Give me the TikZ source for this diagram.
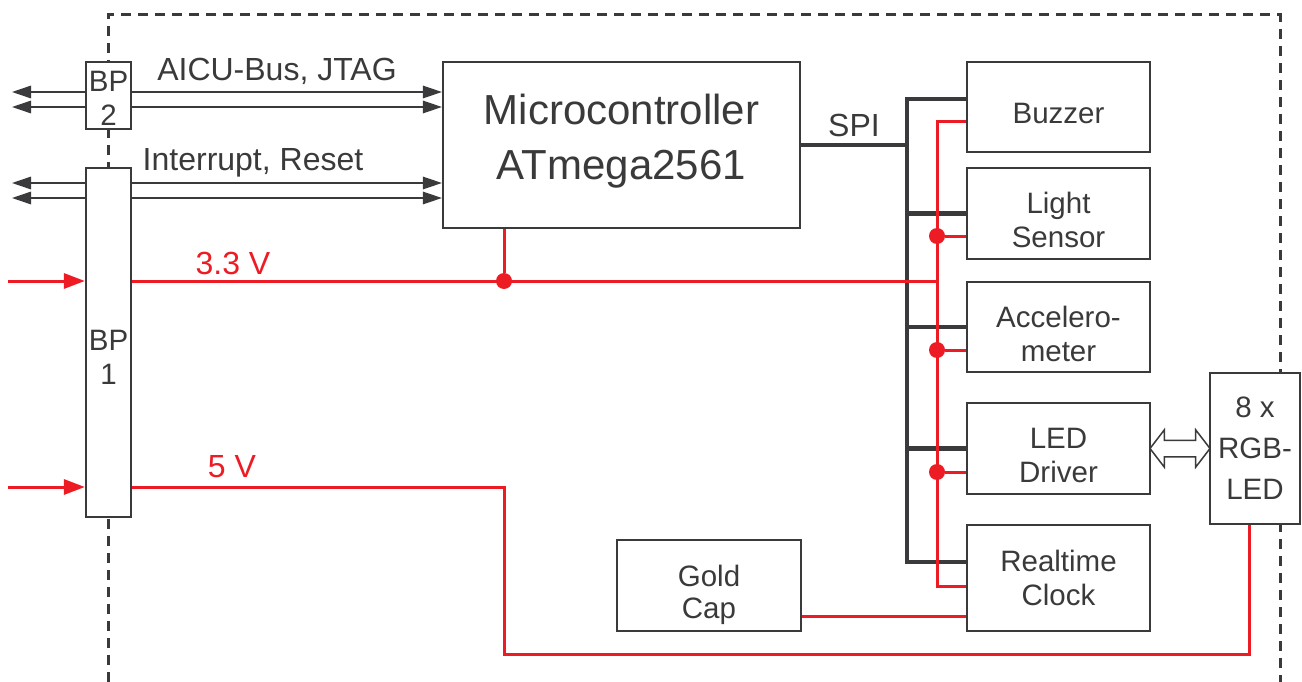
\documentclass[tikz,border=0pt]{standalone}
\usepackage{fontspec}
\setmainfont{Liberation Sans}
\usetikzlibrary{arrows.meta,positioning,shapes.arrows,calc}
\definecolor{DGray}{RGB}{58,58,60}
\definecolor{PRed}{RGB}{237,28,36}

\tikzset{
  blk/.style={draw=DGray, line width=2.2pt, fill=white, inner sep=0pt},
  boxtxt/.style={text=DGray, align=center, inner sep=0pt,
    font=\fontsize{29.5}{34}\selectfont},
  sig/.style={draw=DGray, line width=1.5pt, -{Triangle[length=19pt,width=12.5pt]}},
  spibus/.style={draw=DGray, line width=4.5pt},
  pwr/.style={draw=PRed, line width=3pt},
  pwrin/.style={pwr, -{Triangle[length=21pt,width=15pt]}},
  pwrdot/.style={circle, fill=PRed, inner sep=0pt, minimum size=16pt},
  lbl/.style={text=DGray, font=\fontsize{32}{38}\selectfont, inner sep=0pt},
  frame/.style={draw=DGray, line width=3pt, dash pattern=on 10pt off 7pt}
}

\begin{document}
\begin{tikzpicture}[x=1pt, y=-1pt]
  \useasboundingbox (0,0) rectangle (1302,682);

  % board outline
  \draw[frame] (108,682) |- (1280,15) -- (1280,682);

  % connectors and blocks
  \node[blk, minimum width=45pt, minimum height=67pt,
    label={[boxtxt, yshift=-3pt]center:{BP\\2}}] (bp2) at (108.5,95.5) {};
  \node[blk, minimum width=45pt, minimum height=349pt,
    label={[boxtxt, yshift=-15pt]center:{BP\\1}}] (bp1) at (108.5,342.5) {};
  \node[blk, minimum width=357pt, minimum height=166pt,
    label={[boxtxt, yshift=4pt, font=\fontsize{42}{55}\selectfont]center:{Microcontroller\\ATmega2561}}]
    (mcu) at (621.5,145) {};

  \node[blk, minimum width=183pt, minimum height=90pt,
    label={[boxtxt, yshift=-6pt]center:Buzzer}] (buzzer) at (1058.5,107) {};
  \node[blk, minimum width=183pt, minimum height=91pt,
    label={[boxtxt, yshift=-6pt]center:{Light\\Sensor}}] (light) at (1058.5,213.5) {};
  \node[blk, minimum width=183pt, minimum height=90pt,
    label={[boxtxt, yshift=-7pt]center:{Accelero-\\meter}}] (accel) at (1058.5,327) {};
  \node[blk, minimum width=183pt, minimum height=91pt,
    label={[boxtxt, yshift=-7pt]center:{LED\\Driver}}] (ledd) at (1058.5,448.5) {};
  \node[blk, minimum width=183pt, minimum height=106pt,
    label={[boxtxt]center:{Realtime\\Clock}}] (rtc) at (1058.5,578) {};
  \node[blk, minimum width=184pt, minimum height=91pt,
    label={[boxtxt, yshift=-9pt, font=\fontsize{29.5}{32}\selectfont]center:{Gold\\Cap}}]
    (gold) at (709,585.5) {};
  \node[blk, minimum width=90pt, minimum height=151pt,
    label={[boxtxt, font=\fontsize{29.5}{41}\selectfont]center:{8 x\\RGB-\\LED}}]
    (rgb) at (1255,448.5) {};

  % external signals
  \coordinate (extA) at (12,92);
  \coordinate (extB) at (12,107);
  \coordinate (extC) at (12,183);
  \coordinate (extD) at (12,198);
  \foreach \e/\b in {extA/bp2, extB/bp2, extC/bp1, extD/bp1} {
    \draw[sig] (\e -| \b.west) -- (\e);
    \draw[sig] (\e -| \b.east) -- (\e -| mcu.west);
  }
  \node[lbl] (aicu) at (277,71) {AICU-Bus, JTAG};
  \node[lbl] (irq) at (253,163) {Interrupt, Reset};

  % SPI bus
  \coordinate (spiT) at (907,99);
  \coordinate (spiB) at (907,562);
  \draw[spibus] (spiT -| buzzer.west) -- (spiT) -- (spiB) -- (spiB -| rtc.west);
  \draw[spibus] (mcu.east) -- (mcu.east -| spiT);
  \foreach \n in {light, accel, ledd}
    \draw[spibus] (\n.west -| spiT) -- (\n.west);
  \node[lbl] (spi) at (854,125) {SPI};

  % 3.3 V supply
  \coordinate (in33) at (8,281);
  \coordinate (vT) at (937,122);
  \coordinate (vB) at (937,586);
  \draw[pwrin] (in33) -- (in33 -| bp1.west);
  \draw[pwr] (in33 -| bp1.east) -- (in33 -| vT);
  \draw[pwr] (vT -| buzzer.west) -- (vT) -- (vB) -- (vB -| rtc.west);
  \node[pwrdot] (dmcu) at (504,281) {};
  \draw[pwr] (mcu.south -| dmcu) -- (dmcu);
  \node[pwrdot] (dls) at (937,236) {};
  \node[pwrdot] (dacc) at (937,350) {};
  \node[pwrdot] (dled) at (937,472) {};
  \draw[pwr] (dls) -- (dls -| light.west);
  \draw[pwr] (dacc) -- (dacc -| accel.west);
  \draw[pwr] (dled) -- (dled -| ledd.west);
  \draw[pwr] ([yshift=-31pt]gold.east) -- ([yshift=-31pt]gold.east -| rtc.west);
  \node[lbl, text=PRed] (v33) at (233,263) {3.3 V};

  % 5 V supply
  \coordinate (in5) at (8,487);
  \coordinate (v5) at (504,487);
  \draw[pwrin] (in5) -- (in5 -| bp1.west);
  \draw[pwr] (in5 -| bp1.east) -- (v5) -- (504,654) -| ([xshift=-6pt]rgb.south);
  \node[lbl, text=PRed] (v5lbl) at (232,467) {5 V};

  % LED driver link
  \node[double arrow, draw=DGray, line width=1.5pt, fill=white, inner xsep=0pt,
    inner ysep=7.5pt, minimum height=60pt, minimum width=36pt,
    double arrow head extend=10.5pt, double arrow tip angle=105]
    (link) at ($(ledd.east)!0.5!(rgb.west)$) {};
\end{tikzpicture}
\end{document}
